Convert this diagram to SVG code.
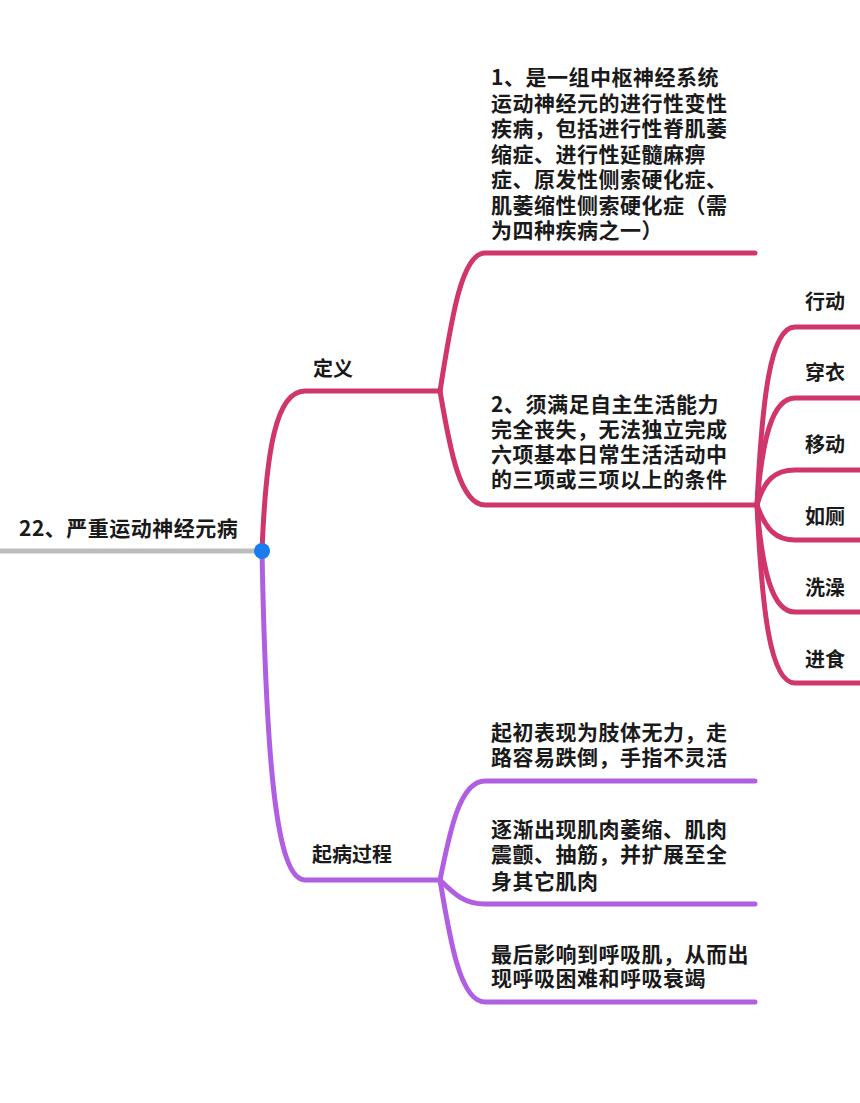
<svg xmlns="http://www.w3.org/2000/svg" width="860" height="1103" viewBox="0 0 860 1103">
<style>
text{font-family:"Noto Sans CJK SC","Noto Sans",sans-serif;font-weight:600;fill:#1a1a1a}
.t{font-size:21px;letter-spacing:0.5px}
.c{font-size:20px}
.p{fill:none;stroke:#D0356C;stroke-width:5;stroke-linecap:round}
.v{fill:none;stroke:#B15FE2;stroke-width:5;stroke-linecap:round}
.g{fill:none;stroke:#BDBDBD;stroke-width:5}
</style>
<rect width="860" height="1103" fill="#ffffff"/>
<g id="connectors">
<path class="g" d="M0,551 H262"/>
<path class="p" d="M262,551 C266,450 276,391 305,391 H440"/>
<path class="p" d="M440,391 C450,330 460,253 485,253 H755"/>
<path class="p" d="M440,391 C450,450 460,505 485,505 H757"/>
<path class="p" d="M757,505 C762,400 770,327 795,327 H862"/>
<path class="p" d="M757,505 C762,440 772,398 795,398 H862"/>
<path class="p" d="M757,505 C764,480 775,470 795,470 H862"/>
<path class="p" d="M757,505 C766,530 776,540 795,540 H862"/>
<path class="p" d="M757,505 C762,570 772,612 795,612 H862"/>
<path class="p" d="M757,505 C762,610 770,683 795,683 H862"/>
<path class="v" d="M262,551 C266,760 276,880 305,880 H440"/>
<path class="v" d="M440,880 C450,830 460,781 485,781 H755"/>
<path class="v" d="M440,880 C455,895 465,904 485,904 H755"/>
<path class="v" d="M440,880 C450,940 460,1002 485,1002 H755"/>
</g>
<g id="root">
<text class="t" x="19" y="536">22、严重运动神经元病</text>
<circle cx="262" cy="551" r="8" fill="#1B7CF0"/>
</g>
<g id="def">
<text class="c" x="313" y="376">定义</text>
</g>
<g id="def1">
<text class="t" x="491" y="85">1、是一组中枢神经系统</text>
<text class="t" x="491" y="110.5">运动神经元的进行性变性</text>
<text class="t" x="491" y="136">疾病，包括进行性脊肌萎</text>
<text class="t" x="491" y="161.5">缩症、进行性延髓麻痹</text>
<text class="t" x="491" y="187">症、原发性侧索硬化症、</text>
<text class="t" x="491" y="212.5">肌萎缩性侧索硬化症（需</text>
<text class="t" x="491" y="238">为四种疾病之一）</text>
</g>
<g id="def2">
<text class="t" x="491" y="412">2、须满足自主生活能力</text>
<text class="t" x="491" y="437">完全丧失，无法独立完成</text>
<text class="t" x="491" y="462">六项基本日常生活活动中</text>
<text class="t" x="491" y="487">的三项或三项以上的条件</text>
</g>
<g id="a1"><text class="c" x="805" y="309">行动</text></g>
<g id="a2"><text class="c" x="805" y="380">穿衣</text></g>
<g id="a3"><text class="c" x="805" y="452">移动</text></g>
<g id="a4"><text class="c" x="805" y="524">如厕</text></g>
<g id="a5"><text class="c" x="805" y="595">洗澡</text></g>
<g id="a6"><text class="c" x="805" y="667">进食</text></g>
<g id="onset">
<text class="c" x="312" y="862">起病过程</text>
</g>
<g id="o1">
<text class="t" x="491" y="740">起初表现为肢体无力，走</text>
<text class="t" x="491" y="765">路容易跌倒，手指不灵活</text>
</g>
<g id="o2">
<text class="t" x="491" y="837">逐渐出现肌肉萎缩、肌肉</text>
<text class="t" x="491" y="862">震颤、抽筋，并扩展至全</text>
<text class="t" x="491" y="889">身其它肌肉</text>
</g>
<g id="o3">
<text class="t" x="491" y="962">最后影响到呼吸肌，从而出</text>
<text class="t" x="491" y="986">现呼吸困难和呼吸衰竭</text>
</g>
</svg>
